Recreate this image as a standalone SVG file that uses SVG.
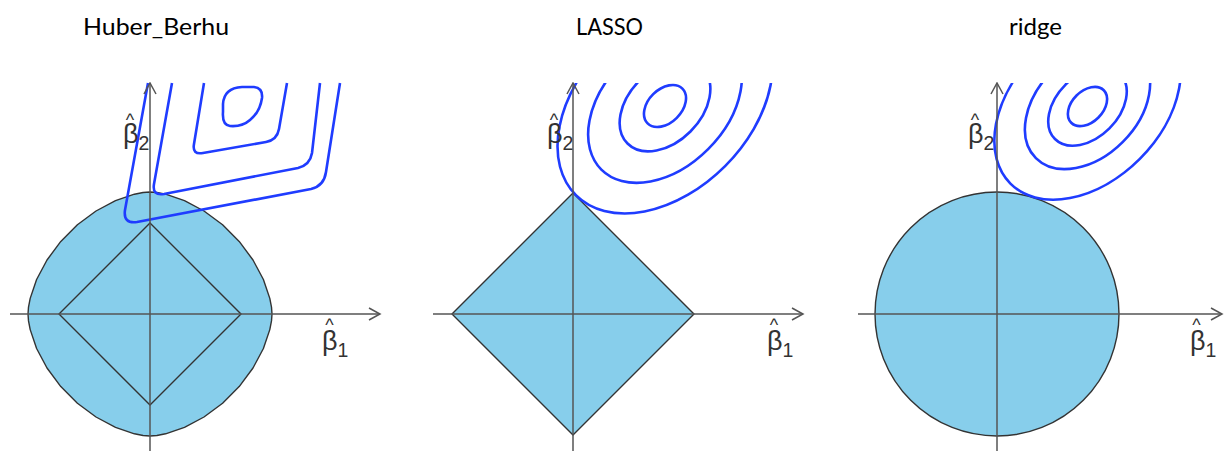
<svg xmlns="http://www.w3.org/2000/svg" width="1224" height="451" viewBox="0 0 1224 451">
<style>
.title{font-family:Lato,"Liberation Sans",sans-serif;font-size:24px;fill:#000}
.lbl{font-family:"Liberation Sans",Arial,sans-serif;font-size:27px;fill:#333}
.sub{font-size:19.5px}
.hat{font-size:18px}
.region{fill:#87ceeb;stroke:#333;stroke-width:1.4;stroke-linejoin:round}
.inner{fill:none;stroke:#333;stroke-width:1.4}
.axis{fill:none;stroke:#555;stroke-width:1.5;marker-end:url(#arr)}
.contour{fill:none;stroke:#1f3cff;stroke-width:2.6;stroke-linejoin:round}
</style>
<defs>
<marker id="arr" markerUnits="userSpaceOnUse" markerWidth="14" markerHeight="14" viewBox="-1 -7 13 14" refX="11" refY="0" orient="auto">
<path d="M0,-6 L11,0 L0,6" fill="none" stroke="#555" stroke-width="1.5"/>
</marker>
<clipPath id="clipTop"><rect x="0" y="83" width="1224" height="368"/></clipPath>
</defs>

<g id="titles">
<text class="title" x="83" y="35" textLength="146" lengthAdjust="spacingAndGlyphs">Huber_Berhu</text>
<text class="title" x="576" y="35" textLength="67" lengthAdjust="spacingAndGlyphs">LASSO</text>
<text class="title" x="1009" y="35" textLength="53" lengthAdjust="spacingAndGlyphs">ridge</text>
</g>

<g id="panel-huber">
<polygon class="region" points="272,314 271.5,307.1 269.8,298.4 263.4,279.5 253,260 239.2,241.4 222.6,224.8 204,211 184.5,200.6 165.6,194.2 156.9,192.5 150,192 143.1,192.5 134.4,194.2 115.5,200.6 96,211 77.4,224.8 60.8,241.4 47,260 36.6,279.5 30.2,298.4 28.5,307.1 28,314 28.5,320.9 30.2,329.6 36.6,348.5 47,368 60.8,386.6 77.4,403.2 96,417 115.5,427.4 134.4,433.8 143.1,435.5 150,436 156.9,435.5 165.6,433.8 184.5,427.4 204,417 222.6,403.2 239.2,386.6 253,368 263.4,348.5 269.8,329.6 271.5,320.9"/>
<polygon class="inner" points="150,223 241,314 150,405 59,314"/>
<g id="contours-huber">
<path class="contour" d="M148,83 L125,210 Q123,224 137,222 L311,189 Q324,186 326,172 L340,83"/>
<path class="contour" d="M172,83 L154,184 Q152,196 164,194 L298,168 Q310,165 312,153 L320,83"/>
<path class="contour" d="M204,83 L194,144 Q192,155 203,153 L266,142 Q277,140 279,129 L287,83"/>
<path class="contour" d="M223,104 Q224,88 242,87 L254,87 Q263,88 262,98 Q260,112 250,120 Q242,127 230,126 Q222,125 223,112 Z"/>
</g>
</g>

<g id="panel-lasso">
<polygon class="region" points="573,193 694,314 573,435 452,314"/>
<g id="contours-lasso" clip-path="url(#clipTop)">
<g transform="translate(665,106) rotate(-45)">
<ellipse class="contour" cx="0" cy="0" rx="126" ry="85"/>
<ellipse class="contour" cx="0" cy="0" rx="90" ry="61"/>
<ellipse class="contour" cx="0" cy="0" rx="53" ry="36"/>
<ellipse class="contour" cx="0" cy="0" rx="24.6" ry="16.7"/>
</g>
</g>
</g>

<g id="panel-ridge">
<circle class="region" cx="997" cy="314" r="122"/>
<g id="contours-ridge" clip-path="url(#clipTop)">
<g transform="translate(1087.5,106.5) rotate(-45)">
<ellipse class="contour" cx="0" cy="0" rx="109" ry="74"/>
<ellipse class="contour" cx="0" cy="0" rx="73" ry="50"/>
<ellipse class="contour" cx="0" cy="0" rx="46" ry="31"/>
<ellipse class="contour" cx="0" cy="0" rx="23" ry="15.5"/>
</g>
</g>
</g>

<g id="axes">
<line class="axis" x1="10" y1="314" x2="380" y2="314"/>
<line class="axis" x1="150" y1="451" x2="150" y2="83"/>
<line class="axis" x1="433" y1="314" x2="803" y2="314"/>
<line class="axis" x1="573" y1="451" x2="573" y2="83"/>
<line class="axis" x1="858" y1="314" x2="1222" y2="314"/>
<line class="axis" x1="997" y1="451" x2="997" y2="83"/>
</g>

<g id="labels">
<text class="lbl"><tspan class="hat" x="125.8" y="126">^</tspan><tspan x="123" y="143">β</tspan><tspan class="sub" dy="7">2</tspan></text>
<text class="lbl"><tspan class="hat" x="325.3" y="331">^</tspan><tspan x="322" y="350">β</tspan><tspan class="sub" dy="7">1</tspan></text>
<text class="lbl"><tspan class="hat" x="549.8" y="126">^</tspan><tspan x="547" y="143">β</tspan><tspan class="sub" dy="7">2</tspan></text>
<text class="lbl"><tspan class="hat" x="769.8" y="331">^</tspan><tspan x="767" y="350">β</tspan><tspan class="sub" dy="7">1</tspan></text>
<text class="lbl"><tspan class="hat" x="970.8" y="126">^</tspan><tspan x="968" y="143">β</tspan><tspan class="sub" dy="7">2</tspan></text>
<text class="lbl"><tspan class="hat" x="1192.3" y="331">^</tspan><tspan x="1190" y="350">β</tspan><tspan class="sub" dy="7">1</tspan></text>
</g>
</svg>
